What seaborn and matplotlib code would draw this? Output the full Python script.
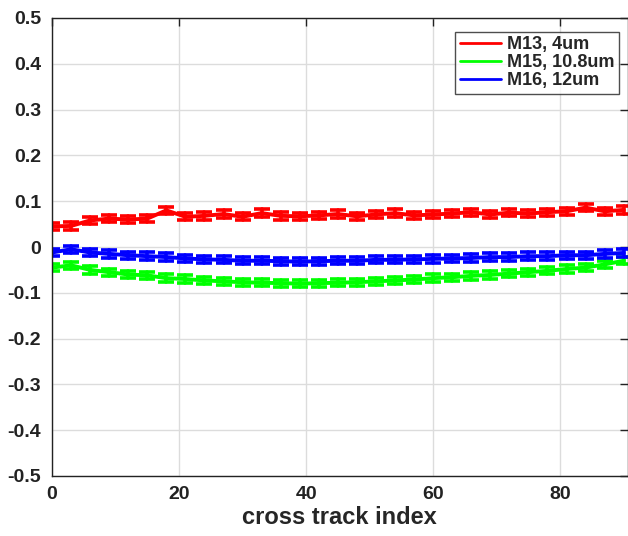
import numpy as np
import pandas as pd
import matplotlib
matplotlib.use("Agg")
import matplotlib.pyplot as plt
import seaborn as sns

# cross-track positions (every third index)
x_index = list(range(0, 91, 3))

m13_mean = [0.045, 0.046, 0.058, 0.062, 0.060, 0.062, 0.080, 0.066, 0.068, 0.072, 0.066,
            0.074, 0.068, 0.067, 0.069, 0.072, 0.067, 0.071, 0.074, 0.069, 0.071, 0.073,
            0.076, 0.071, 0.075, 0.073, 0.076, 0.078, 0.086, 0.078, 0.081]
m15_mean = [-0.045, -0.040, -0.050, -0.055, -0.060, -0.062, -0.068, -0.070, -0.073, -0.075,
            -0.077, -0.078, -0.079, -0.080, -0.079, -0.078, -0.077, -0.075, -0.073, -0.071,
            -0.068, -0.066, -0.063, -0.061, -0.058, -0.055, -0.052, -0.048, -0.045, -0.038,
            -0.030]
m16_mean = [-0.012, -0.005, -0.012, -0.015, -0.018, -0.020, -0.022, -0.025, -0.027, -0.028,
            -0.030, -0.030, -0.031, -0.032, -0.031, -0.030, -0.030, -0.028, -0.028, -0.027,
            -0.026, -0.025, -0.024, -0.022, -0.022, -0.020, -0.020, -0.018, -0.018, -0.015,
            -0.013]
err_half = [0.008] * len(x_index)

labels = ["M13, 4um", "M15, 10.8um", "M16, 12um"]
colors = ["#ff0000", "#00ff00", "#0000ff"]

rows = []
for lab, ys in zip(labels, [m13_mean, m15_mean, m16_mean]):
    for xi, yi, ei in zip(x_index, ys, err_half):
        rows.append({"x": xi, "y": yi - ei, "band": lab})
        rows.append({"x": xi, "y": yi + ei, "band": lab})
df = pd.DataFrame(rows)

sns.set_style("white")
plt.rcParams["font.family"] = ["Liberation Sans", "DejaVu Sans"]
plt.rcParams["font.weight"] = "bold"

fig = plt.figure(figsize=(6.28, 5.36), dpi=100)
ax = fig.add_axes([52 / 628, 1 - 476 / 536, (627.5 - 52) / 628, (476 - 18) / 536])

sns.lineplot(data=df, x="x", y="y", hue="band", palette=colors, hue_order=labels,
             estimator="mean", errorbar=lambda v: (v.min(), v.max()),
             err_style="bars", err_kws={"capsize": 6, "elinewidth": 2.6, "capthick": 2.6},
             linewidth=2.8, ax=ax, legend=True)

ax.set_xlim(0, 90.6)
ax.set_ylim(-0.5, 0.5)
ax.set_xticks([0, 20, 40, 60, 80])
ax.set_yticks(np.round(np.arange(-0.5, 0.51, 0.1), 1))
ax.set_yticklabels(["-0.5", "-0.4", "-0.3", "-0.2", "-0.1", "0", "0.1", "0.2", "0.3", "0.4", "0.5"])
ax.grid(True, color="#dcdcdc", linewidth=1)
ax.set_axisbelow(True)
ax.tick_params(direction="in", length=6, width=1, top=True, right=True,
               labelsize=14, colors="#222222")
ax.tick_params(axis="x", pad=7)
ax.tick_params(axis="y", pad=8)
for lab in ax.get_xticklabels() + ax.get_yticklabels():
    lab.set_fontweight("bold")
for s in ax.spines.values():
    s.set_color("#222222")
    s.set_linewidth(1)
ax.set_xlabel("cross track index", fontsize=17, fontweight="bold", labelpad=2)
ax.set_ylabel("")

leg = ax.legend(loc="upper right", bbox_to_anchor=(0.985, 0.97), frameon=True, fancybox=False,
                edgecolor="#222222", fontsize=13, handlelength=2.3, borderpad=0.25,
                labelspacing=0.05, handletextpad=0.3, borderaxespad=0)
leg.get_frame().set_linewidth(1)
for t in leg.get_texts():
    t.set_fontweight("bold")
for h in leg.get_lines():
    h.set_linewidth(2)

fig.savefig("out.png", dpi=100)
